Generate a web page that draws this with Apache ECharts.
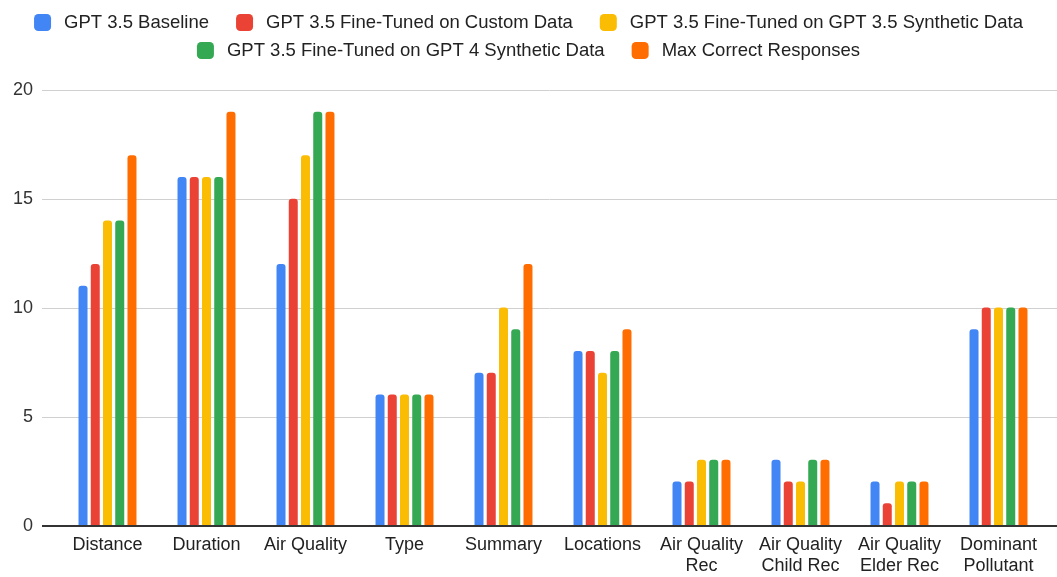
<!DOCTYPE html>
<html>
<head>
<meta charset="utf-8">
<script src="https://cdn.jsdelivr.net/npm/echarts@6/dist/echarts.min.js"></script>
<style>
html,body{margin:0;padding:0;background:#fff;}
#chart{width:1057px;height:577px;}
</style>
</head>
<body>
<div id="chart"></div>
<script>
// Correct responses per extracted field, by model variant
const categories = ['Distance', 'Duration', 'Air Quality', 'Type', 'Summary', 'Locations',
  'Air Quality\nRec', 'Air Quality\nChild Rec', 'Air Quality\nElder Rec', 'Dominant\nPollutant'];
const seriesNames = [
  'GPT 3.5 Baseline',
  'GPT 3.5 Fine-Tuned on Custom Data',
  'GPT 3.5 Fine-Tuned on GPT 3.5 Synthetic Data',
  'GPT 3.5 Fine-Tuned on GPT 4 Synthetic Data',
  'Max Correct Responses'
];
const baseline      = [11, 16, 12, 6, 7, 8, 2, 3, 2, 9];
const customData    = [12, 16, 15, 6, 7, 8, 2, 2, 1, 10];
const synthetic35   = [14, 16, 17, 6, 10, 7, 3, 2, 2, 10];
const synthetic4    = [14, 16, 19, 6, 9, 8, 3, 3, 2, 10];
const maxCorrect    = [17, 19, 19, 6, 12, 9, 3, 3, 2, 10];
const yTicks = [0, 5, 10, 15, 20];

const colors = ['#4285F4', '#EA4335', '#FBBC04', '#34A853', '#FF6D01'];
const seriesData = [baseline, customData, synthetic35, synthetic4, maxCorrect];
const font = 'Liberation Sans, Arial, sans-serif';

const legendBase = {
  left: 'center',
  itemWidth: 17,
  itemHeight: 17,
  itemGap: 27,
  icon: 'roundRect',
  textStyle: { fontFamily: font, fontSize: 18.5, color: '#222', padding: [0, 0, 0, 8] }
};

const chart = echarts.init(document.getElementById('chart'));
chart.setOption({
  animation: false,
  color: colors,
  legend: [
    Object.assign({}, legendBase, { top: 8, data: seriesNames.slice(0, 3) }),
    Object.assign({}, legendBase, { top: 36, data: seriesNames.slice(3) })
  ],
  grid: [
    // full-width frame carrying gridlines and baseline
    { left: 42, right: 0, top: 90, bottom: 51 },
    // bar area
    { left: 58, right: 9, top: 90, bottom: 51 }
  ],
  xAxis: [
    { type: 'value', gridIndex: 0, min: 0, max: 1, show: false },
    {
      type: 'category', gridIndex: 1, data: categories,
      axisLine: { show: false },
      axisTick: { show: false },
      axisLabel: { fontFamily: font, fontSize: 18, color: '#222', margin: 10, lineHeight: 21, interval: 0 }
    }
  ],
  yAxis: [
    {
      type: 'value', gridIndex: 0, min: 0, max: 20, interval: 5,
      axisLine: { show: false },
      axisTick: { show: false },
      splitLine: { lineStyle: { color: '#d0d0d0', width: 1 } },
      axisLabel: {
        fontFamily: font, fontSize: 18, color: '#333', margin: 9,
        formatter: v => yTicks.includes(v) ? String(v) : ''
      }
    },
    { type: 'value', gridIndex: 1, min: 0, max: 20, interval: 5, show: false }
  ],
  series: seriesData.map((d, i) => ({
    name: seriesNames[i],
    type: 'bar',
    xAxisIndex: 1,
    yAxisIndex: 1,
    data: d,
    barWidth: 9,
    barGap: '36%',
    itemStyle: { borderRadius: [3, 3, 0, 0] }
  })).concat([{
    // baseline along the value-axis zero
    type: 'line',
    xAxisIndex: 0,
    yAxisIndex: 0,
    data: [[0, 0], [1, 0]],
    symbol: 'none',
    silent: true,
    lineStyle: { color: '#333', width: 2 },
    z: 5
  }])
});
</script>
</body>
</html>
